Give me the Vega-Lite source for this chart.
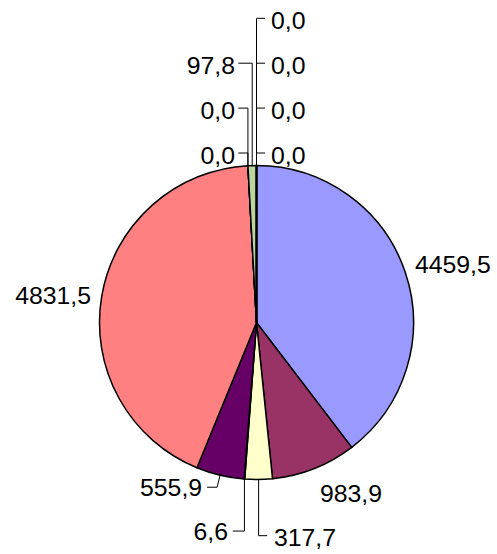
{
  "$schema": "https://vega.github.io/schema/vega-lite/v6.json",
  "width": 481,
  "height": 461,
  "autosize": {"type": "none"},
  "padding": {"left": 16, "top": 92, "right": 0, "bottom": 1},
  "background": "white",
  "config": {
    "view": {"stroke": null},
    "text": {"font": "Liberation Sans", "fontSize": 24.8, "color": "black"}
  },
  "data": {
    "values": [
      {"i": 1, "cat": "s1", "value": 4459.5, "label": "4459,5"},
      {"i": 2, "cat": "s2", "value": 983.9, "label": "983,9"},
      {"i": 3, "cat": "s3", "value": 317.7, "label": "317,7"},
      {"i": 4, "cat": "s4", "value": 6.6, "label": "6,6"},
      {"i": 5, "cat": "s5", "value": 555.9, "label": "555,9"},
      {"i": 6, "cat": "s6", "value": 4831.5, "label": "4831,5"},
      {"i": 7, "cat": "s7", "value": 0, "label": "0,0"},
      {"i": 8, "cat": "s8", "value": 0, "label": "0,0"},
      {"i": 9, "cat": "s9", "value": 97.8, "label": "97,8"},
      {"i": 10, "cat": "s10", "value": 0, "label": "0,0"},
      {"i": 11, "cat": "s11", "value": 0, "label": "0,0"},
      {"i": 12, "cat": "s12", "value": 0, "label": "0,0"},
      {"i": 13, "cat": "s13", "value": 0, "label": "0,0"}
    ]
  },
  "transform": [
    {"joinaggregate": [{"op": "sum", "field": "value", "as": "total"}]},
    {"window": [{"op": "sum", "field": "value", "as": "cum"}], "sort": [{"field": "i", "order": "ascending"}], "frame": [null, 0]},
    {"calculate": "(datum.cum - datum.value/2)/datum.total*2*PI", "as": "mid"},
    {"calculate": "157*sin(datum.mid)", "as": "ex"},
    {"calculate": "-157*cos(datum.mid)", "as": "ey"}
  ],
  "layer": [
    {
      "mark": {"type": "arc", "outerRadius": 157, "stroke": "black", "strokeWidth": 1.5},
      "encoding": {
        "theta": {"field": "value", "type": "quantitative", "stack": true},
        "order": {"field": "i", "type": "quantitative"},
        "color": {
          "field": "cat", "type": "nominal", "legend": null,
          "scale": {
            "domain": ["s1","s2","s3","s4","s5","s6","s7","s8","s9","s10","s11","s12","s13"],
            "range": ["#9999FF","#993366","#FFFFCC","#CCFFFF","#660066","#FF8080","#0066CC","#CCCCFF","#BBD59D","#FF00FF","#FFFF00","#00FFFF","#800080"]
          }
        }
      }
    },
    {
      "transform": [
        {"filter": "datum.i == 1"},
        {"calculate": "170*sin(datum.mid)", "as": "lx"},
        {"calculate": "-170*cos(datum.mid)", "as": "ly"}
      ],
      "mark": {"type": "text", "align": "left", "baseline": "middle", "dx": -2.6, "dy": -2.5},
      "encoding": {
        "x": {"field": "lx", "type": "quantitative", "scale": {"domain": [-240.5, 240.5], "nice": false, "zero": false}, "axis": null},
        "y": {"field": "ly", "type": "quantitative", "scale": {"domain": [-230.5, 230.5], "nice": false, "zero": false, "reverse": true}, "axis": null},
        "text": {"field": "label"}
      }
    },
    {
      "transform": [
        {"filter": "datum.i == 6"},
        {"calculate": "170*sin(datum.mid)", "as": "lx"},
        {"calculate": "-170*cos(datum.mid)", "as": "ly"}
      ],
      "mark": {"type": "text", "align": "right", "baseline": "middle", "dx": 2.1, "dy": 2.4},
      "encoding": {
        "x": {"field": "lx", "type": "quantitative", "axis": null},
        "y": {"field": "ly", "type": "quantitative", "axis": null},
        "text": {"field": "label"}
      }
    },
    {
      "transform": [
        {"filter": "datum.i == 2"},
        {"calculate": "170*sin(datum.mid)", "as": "lx"},
        {"calculate": "-170*cos(datum.mid)", "as": "ly"}
      ],
      "mark": {"type": "text", "align": "left", "baseline": "top", "dx": 0.9, "dy": 1.2},
      "encoding": {
        "x": {"field": "lx", "type": "quantitative", "axis": null},
        "y": {"field": "ly", "type": "quantitative", "axis": null},
        "text": {"field": "label"}
      }
    },
    {
      "transform": [
        {"filter": "datum.value/datum.total < 0.01 && datum.mid > 5 && datum.mid < 2*PI - 1e-9"},
        {"window": [{"op": "row_number", "as": "k"}], "sort": [{"field": "i"}]},
        {"calculate": "datum.ex", "as": "ax"},
        {"calculate": "-169.5 - 44.9*(datum.k-1)", "as": "ay"},
        {"calculate": "-18.2", "as": "tx"},
        {"calculate": "-21.5", "as": "lx"}
      ],
      "layer": [
        {"mark": {"type": "rule", "color": "black", "strokeWidth": 1}, "encoding": {"x": {"field": "ex", "type": "quantitative", "axis": null}, "y": {"field": "ey", "type": "quantitative", "axis": null}, "x2": {"field": "ax"}, "y2": {"field": "ay"}}},
        {"mark": {"type": "rule", "color": "black", "strokeWidth": 1}, "encoding": {"x": {"field": "ax", "type": "quantitative", "axis": null}, "x2": {"field": "tx"}, "y": {"field": "ay", "type": "quantitative", "axis": null}}},
        {"mark": {"type": "text", "align": "right", "baseline": "middle", "dy": 3.6}, "encoding": {"x": {"field": "lx", "type": "quantitative", "axis": null}, "y": {"field": "ay", "type": "quantitative", "axis": null}, "text": {"field": "label"}}}
      ]
    },
    {
      "transform": [
        {"filter": "datum.mid >= 2*PI - 1e-9"},
        {"window": [{"op": "row_number", "as": "k"}], "sort": [{"field": "i"}]},
        {"calculate": "datum.ex", "as": "ax"},
        {"calculate": "-169.5 - 44.9*(datum.k-1)", "as": "ay"},
        {"calculate": "8.5", "as": "tx"},
        {"calculate": "14.5", "as": "lx"}
      ],
      "layer": [
        {"mark": {"type": "rule", "color": "black", "strokeWidth": 1}, "encoding": {"x": {"field": "ex", "type": "quantitative", "axis": null}, "y": {"field": "ey", "type": "quantitative", "axis": null}, "x2": {"field": "ax"}, "y2": {"field": "ay"}}},
        {"mark": {"type": "rule", "color": "black", "strokeWidth": 1}, "encoding": {"x": {"field": "ax", "type": "quantitative", "axis": null}, "x2": {"field": "tx"}, "y": {"field": "ay", "type": "quantitative", "axis": null}}},
        {"mark": {"type": "text", "align": "left", "baseline": "middle", "dy": 3.6}, "encoding": {"x": {"field": "lx", "type": "quantitative", "axis": null}, "y": {"field": "ay", "type": "quantitative", "axis": null}, "text": {"field": "label"}}}
      ]
    },
    {
      "transform": [
        {"filter": "datum.i == 3"},
        {"calculate": "datum.ex", "as": "ax"},
        {"calculate": "datum.ey + 56.2", "as": "ay"},
        {"calculate": "datum.ex + 8.6", "as": "tx"},
        {"calculate": "datum.ex + 15.3", "as": "lx"}
      ],
      "layer": [
        {"mark": {"type": "rule", "color": "black", "strokeWidth": 1}, "encoding": {"x": {"field": "ex", "type": "quantitative", "axis": null}, "y": {"field": "ey", "type": "quantitative", "axis": null}, "x2": {"field": "ax"}, "y2": {"field": "ay"}}},
        {"mark": {"type": "rule", "color": "black", "strokeWidth": 1}, "encoding": {"x": {"field": "ax", "type": "quantitative", "axis": null}, "x2": {"field": "tx"}, "y": {"field": "ay", "type": "quantitative", "axis": null}}},
        {"mark": {"type": "text", "align": "left", "baseline": "middle", "dy": 2.9}, "encoding": {"x": {"field": "lx", "type": "quantitative", "axis": null}, "y": {"field": "ay", "type": "quantitative", "axis": null}, "text": {"field": "label"}}}
      ]
    },
    {
      "transform": [
        {"filter": "datum.i == 4"},
        {"calculate": "datum.ex", "as": "ax"},
        {"calculate": "datum.ey + 52", "as": "ay"},
        {"calculate": "datum.ex - 11.7", "as": "tx"},
        {"calculate": "datum.ex - 16.4", "as": "lx"}
      ],
      "layer": [
        {"mark": {"type": "rule", "color": "black", "strokeWidth": 1}, "encoding": {"x": {"field": "ex", "type": "quantitative", "axis": null}, "y": {"field": "ey", "type": "quantitative", "axis": null}, "x2": {"field": "ax"}, "y2": {"field": "ay"}}},
        {"mark": {"type": "rule", "color": "black", "strokeWidth": 1}, "encoding": {"x": {"field": "ax", "type": "quantitative", "axis": null}, "x2": {"field": "tx"}, "y": {"field": "ay", "type": "quantitative", "axis": null}}},
        {"mark": {"type": "text", "align": "right", "baseline": "middle", "dy": 2.1}, "encoding": {"x": {"field": "lx", "type": "quantitative", "axis": null}, "y": {"field": "ay", "type": "quantitative", "axis": null}, "text": {"field": "label"}}}
      ]
    },
    {
      "transform": [
        {"filter": "datum.i == 5"},
        {"calculate": "datum.ex - 3", "as": "ax"},
        {"calculate": "datum.ey + 12", "as": "ay"},
        {"calculate": "datum.ex - 13", "as": "tx"},
        {"calculate": "datum.ex - 18", "as": "lx"}
      ],
      "layer": [
        {"mark": {"type": "rule", "color": "black", "strokeWidth": 1}, "encoding": {"x": {"field": "ex", "type": "quantitative", "axis": null}, "y": {"field": "ey", "type": "quantitative", "axis": null}, "x2": {"field": "ax"}, "y2": {"field": "ay"}}},
        {"mark": {"type": "rule", "color": "black", "strokeWidth": 1}, "encoding": {"x": {"field": "ax", "type": "quantitative", "axis": null}, "x2": {"field": "tx"}, "y": {"field": "ay", "type": "quantitative", "axis": null}}},
        {"mark": {"type": "text", "align": "right", "baseline": "middle", "dy": 1.9}, "encoding": {"x": {"field": "lx", "type": "quantitative", "axis": null}, "y": {"field": "ay", "type": "quantitative", "axis": null}, "text": {"field": "label"}}}
      ]
    }
  ]
}
